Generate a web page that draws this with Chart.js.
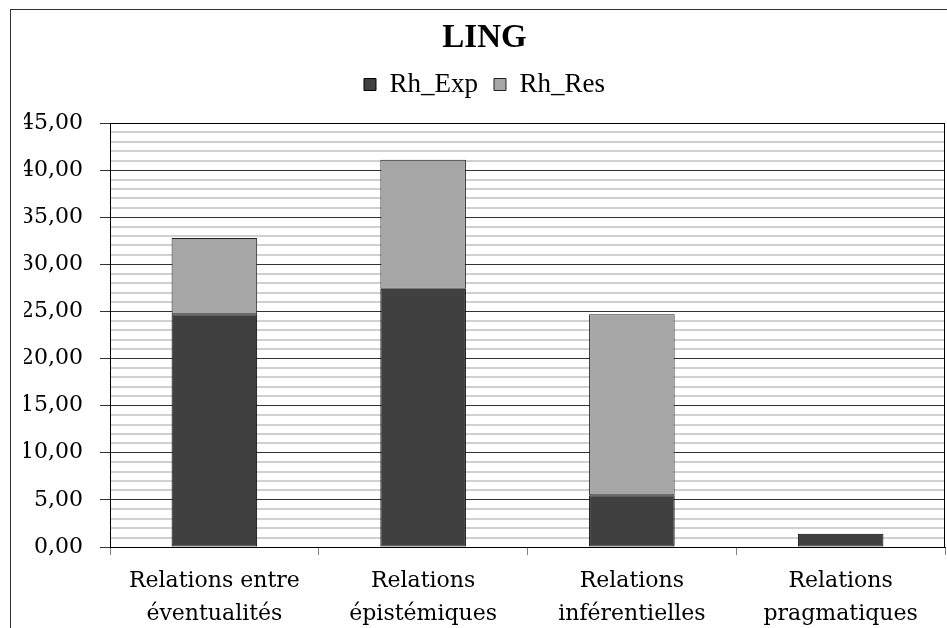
<!DOCTYPE html>
<html>
<head>
<meta charset="utf-8">
<script src="https://cdn.jsdelivr.net/npm/chart.js@4/dist/chart.umd.min.js"></script>
<style>
html,body{margin:0;padding:0;background:#fff;}
canvas{display:block;}
</style>
</head>
<body>
<canvas id="c" width="947" height="628"></canvas>
<script>
const categories = [
  ['Relations entre', 'éventualités'],
  ['Relations', 'épistémiques'],
  ['Relations', 'inférentielles'],
  ['Relations', 'pragmatiques']
];
const seriesNames = ['Rh_Exp', 'Rh_Res'];
const rhExp = [24.7, 27.4, 5.5, 1.4];
const rhRes = [8.1, 13.7, 19.2, 0];
const yMin = 0, yMax = 45, yMajorStep = 5, yMinorStep = 1;

const frame = {
  id: 'frame',
  beforeDraw(chart) {
    const c = chart.ctx;
    c.save();
    c.fillStyle = '#fff';
    c.fillRect(0, 0, chart.width, chart.height);
    c.strokeStyle = '#333';
    c.lineWidth = 1;
    c.strokeRect(10.5, 9.5, 2000, 2000);
    c.restore();
  },
  afterDraw(chart) {
    const a = chart.chartArea;
    const c = chart.ctx;
    c.save();
    c.strokeStyle = '#000';
    c.lineWidth = 1;
    c.beginPath();
    c.moveTo(Math.round(a.right) - 0.5, a.top);
    c.lineTo(Math.round(a.right) - 0.5, a.bottom);
    c.moveTo(a.left, Math.round(a.top) + 0.5);
    c.lineTo(a.right, Math.round(a.top) + 0.5);
    c.stroke();
    c.restore();
  }
};

new Chart(document.getElementById('c'), {
  type: 'bar',
  data: {
    labels: categories,
    datasets: [
      { label: seriesNames[0], data: rhExp, backgroundColor: '#404040', borderColor: '#000', borderWidth: 1, borderSkipped: false },
      { label: seriesNames[1], data: rhRes, backgroundColor: '#a6a6a6', borderColor: '#222', borderWidth: 1, borderSkipped: false }
    ]
  },
  options: {
    responsive: false,
    animation: false,
    layout: { padding: { left: 24, right: 2, top: 0, bottom: 0 } },
    datasets: { bar: { barPercentage: 0.41, categoryPercentage: 1 } },
    plugins: {
      title: {
        display: true, text: 'LING', color: '#000',
        font: { family: 'Liberation Serif', size: 33, weight: 'bold', lineHeight: 1 },
        padding: { top: 22, bottom: 0 }
      },
      subtitle: {
        display: true, text: ' ', weight: 500,
        font: { size: 10, lineHeight: 1 },
        padding: { top: 0, bottom: 5 }
      },
      legend: {
        display: true, position: 'top',
        labels: {
          color: '#000', boxWidth: 12, boxHeight: 12, padding: 16,
          font: { family: 'Liberation Serif', size: 27 }
        }
      },
      tooltip: { enabled: false }
    },
    scales: {
      x: {
        stacked: true,
        afterFit(s) { s.height = 81; },
        grid: { offset: true, drawOnChartArea: false, drawTicks: true, tickLength: 8, color: '#808080' },
        border: { display: true, color: '#000', width: 1 },
        ticks: {
          color: '#000', maxRotation: 0, autoSkip: false, padding: 10,
          font: { family: 'DejaVu Serif', size: 22, lineHeight: 1.5 }
        }
      },
      y: {
        stacked: true, min: yMin, max: yMax,
        afterFit(s) { s.width = 86; },
        grid: {
          drawTicks: true, tickLength: 10,
          color(ctx) { return ctx.tick && ctx.tick.value % yMajorStep === 0 ? '#333' : '#d0d0d0'; },
          lineWidth(ctx) { return ctx.tick && ctx.tick.value % yMajorStep === 0 ? 1 : 2; },
          tickColor(ctx) { return ctx.tick && ctx.tick.value % yMajorStep === 0 ? '#333' : 'rgba(0,0,0,0)'; }
        },
        border: { display: true, color: '#000', width: 1 },
        ticks: {
          stepSize: yMinorStep, autoSkip: false, color: '#000', padding: 17,
          font: { family: 'DejaVu Serif', size: 22 },
          callback(v) { return v % yMajorStep === 0 ? v.toFixed(2).replace('.', ',') : ''; }
        }
      }
    }
  },
  plugins: [frame]
});
</script>
</body>
</html>
